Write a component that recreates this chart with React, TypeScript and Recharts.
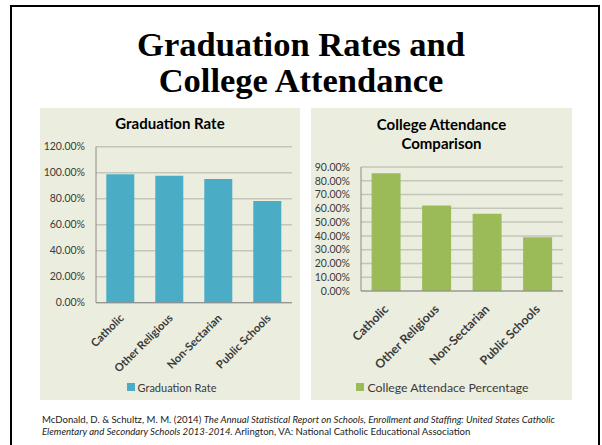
import React from 'react';
import { BarChart, Bar, XAxis, YAxis, CartesianGrid, Legend } from 'recharts';

const categories = ['Catholic', 'Other Religious', 'Non-Sectarian', 'Public Schools'];
const graduationRate = [98.8, 97.7, 95.2, 78.2];
const collegeAttendance = [85.4, 62.0, 56.0, 39.0];
const gradTicks = [0, 20, 40, 60, 80, 100, 120];
const collegeTicks = [0, 10, 20, 30, 40, 50, 60, 70, 80, 90];

const gradData = categories.map((c, i) => ({ name: c, value: graduationRate[i] }));
const collegeData = categories.map((c, i) => ({ name: c, value: collegeAttendance[i] }));

const SANS = 'Lato, "Open Sans", sans-serif';
const PANEL_BG = '#EBEEDF';
const TEXT = '#3A3A3A';

const fmt = (v: number) => v.toFixed(2) + '%';

const XTick = (props: any) => {
  const { x, y, payload, fs, ox, oy } = props;
  return (
    <g transform={`translate(${x + ox},${y + oy})`}>
      <text textAnchor="end" transform="rotate(-45)" fontSize={fs} fontWeight={700} fill={TEXT} fontFamily={SANS}>
        {payload.value}
      </text>
    </g>
  );
};

const LegendContent = ({ color, label, fs }: { color: string; label: string; fs: number }) => (
  <div style={{ display: 'flex', justifyContent: 'center', alignItems: 'center', height: 22, paddingLeft: 11, boxSizing: 'border-box', fontFamily: SANS, fontSize: fs, color: TEXT }}>
    <span style={{ display: 'inline-block', width: 8, height: 8, background: color, marginRight: 3 }} />
    <span>{label}</span>
  </div>
);

export default function App() {
  return (
    <div style={{ position: 'absolute', left: 0, top: 0, width: 602, height: 445, background: '#fff', overflow: 'hidden' }}>
      <div style={{ position: 'absolute', left: 10, top: 5, width: 590, height: 470, border: '2.5px solid #000', boxSizing: 'border-box' }} />
      <div style={{ position: 'absolute', left: 0, top: 26, width: 602, textAlign: 'center', fontFamily: '"Liberation Serif", "Times New Roman", serif', fontWeight: 700, fontSize: 34.5, lineHeight: '36px', color: '#000' }}>
        Graduation Rates and<br />College Attendance
      </div>

      {/* Left panel */}
      <div style={{ position: 'absolute', left: 40, top: 108, width: 260, height: 292, background: PANEL_BG }}>
        <div style={{ position: 'absolute', left: 0, top: 6, width: 260, textAlign: 'center', fontFamily: SANS, fontWeight: 700, fontSize: 15, color: '#000' }}>
          Graduation Rate
        </div>
        <BarChart width={260} height={292} data={gradData} margin={{ top: 38.7, right: 8, left: 0, bottom: 2 }} barCategoryGap="21%">
          <CartesianGrid vertical={false} stroke="#C4C6B9" strokeWidth={1.5} />
          <XAxis dataKey="name" interval={0} height={73.3} axisLine={{ stroke: '#8C8C8C' }} tickLine={false}
            tick={(p: any) => <XTick {...p} fs={11.2} ox={4} oy={8} />} />
          <YAxis width={56} domain={[0, 120]} ticks={gradTicks} interval={0} tickFormatter={fmt} axisLine={{ stroke: '#8C8C8C' }} tickLine={false}
            tickMargin={5} tick={{ fontSize: 10.5, fill: TEXT, fontFamily: SANS }} />
          <Legend verticalAlign="bottom" height={22} content={() => <LegendContent color="#4BACC6" label="Graduation Rate" fs={11} />} />
          <Bar dataKey="value" name="Graduation Rate" fill="#4BACC6" isAnimationActive={false} />
        </BarChart>
      </div>

      {/* Right panel */}
      <div style={{ position: 'absolute', left: 311, top: 108, width: 261, height: 292, background: PANEL_BG }}>
        <div style={{ position: 'absolute', left: 0, top: 7, width: 261, textAlign: 'center', fontFamily: SANS, fontWeight: 700, fontSize: 15, lineHeight: '19px', color: '#000' }}>
          College Attendance<br />Comparison
        </div>
        <BarChart width={261} height={292} data={collegeData} margin={{ top: 59, right: 9, left: 0, bottom: 2 }} barCategoryGap="21%">
          <CartesianGrid vertical={false} stroke="#C4C6B9" strokeWidth={1.5} />
          <XAxis dataKey="name" interval={0} height={85} axisLine={{ stroke: '#8C8C8C' }} tickLine={false}
            tick={(p: any) => <XTick {...p} fs={12.3} ox={3} oy={11} />} />
          <YAxis width={50} domain={[0, 90]} ticks={collegeTicks} interval={0} tickFormatter={fmt} axisLine={{ stroke: '#8C8C8C' }} tickLine={false}
            tickMargin={5} tick={{ fontSize: 10.5, fill: TEXT, fontFamily: SANS }} />
          <Legend verticalAlign="bottom" height={22} content={() => <LegendContent color="#9BBB59" label="College Attendace Percentage" fs={12.3} />} />
          <Bar dataKey="value" name="College Attendace Percentage" fill="#9BBB59" isAnimationActive={false} />
        </BarChart>
      </div>

      <div style={{ position: 'absolute', left: 42, top: 414, width: 560, fontFamily: SANS, fontSize: 9.6, lineHeight: '11.5px', color: '#222', whiteSpace: 'nowrap' }}>
        McDonald, D. &amp; Schultz, M. M. (2014) <i>The Annual Statistical Report on Schools, Enrollment and Staffing: United States Catholic</i><br />
        <i>Elementary and Secondary Schools 2013-2014.</i> Arlington, VA: National Catholic Educational Association
      </div>
    </div>
  );
}
